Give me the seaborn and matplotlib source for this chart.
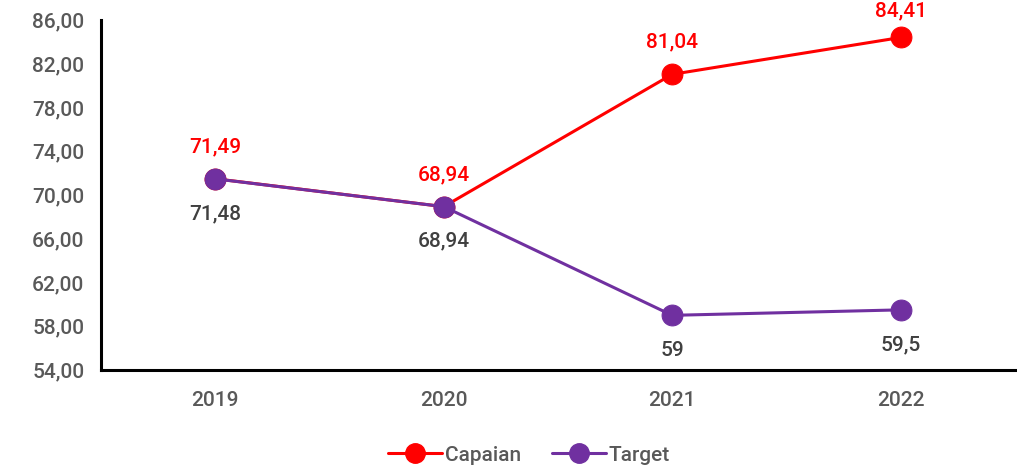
import numpy as np
import pandas as pd
import seaborn as sns
import matplotlib.pyplot as plt

# data
years = ['2019', '2020', '2021', '2022']
capaian = [71.49, 68.94, 81.04, 84.41]
target = [71.48, 68.94, 59.0, 59.5]
capaian_labels = ['71,49', '68,94', '81,04', '84,41']
target_labels = ['71,48', '68,94', '59', '59,5']
series = ['Capaian', 'Target']
colors = ['#FF0000', '#7030A0']

df = pd.DataFrame({
    'Tahun': years * 2,
    'Nilai': capaian + target,
    'Seri': ['Capaian'] * 4 + ['Target'] * 4,
})

sns.set_style('white')
plt.rcParams['font.family'] = ['Roboto', 'DejaVu Sans']

fig = plt.figure(figsize=(10.17, 4.67), dpi=100)
ax = fig.add_axes([0.0993, 0.2077, 0.8987, 0.7493])

sns.lineplot(
    data=df, x='Tahun', y='Nilai', hue='Seri', hue_order=series,
    palette=colors, marker='o', markersize=15, linewidth=2.2,
    ax=ax, legend=False,
)
for line, c in zip(ax.lines, colors):
    line.set_markeredgecolor(c)
    line.set_markerfacecolor(c)

# data labels
for i, (v, lab) in enumerate(zip(capaian, capaian_labels)):
    off = 23 if i < 3 else 19
    ax.annotate(lab, (i, v), xytext=(0, off), textcoords='offset points',
                ha='center', va='center', color='#FF0000', fontsize=15,
                fontweight='medium', annotation_clip=False)
for i, (v, lab) in enumerate(zip(target, target_labels)):
    ax.annotate(lab, (i, v), xytext=(0, -25), textcoords='offset points',
                ha='center', va='center', color='#404040', fontsize=15,
                fontweight='medium', annotation_clip=False)

ax.set_xlim(-0.5, 3.5)
ax.set_ylim(54, 86)
yt = np.arange(54, 87, 4)
ax.set_yticks(yt)
ax.set_yticklabels([f'{t:.2f}'.replace('.', ',') for t in yt])
ax.set_xlabel('')
ax.set_ylabel('')
ax.tick_params(axis='both', length=0, labelsize=15, labelcolor='#595959', pad=12)
ax.tick_params(axis='x', pad=15)
for t in ax.get_xticklabels() + ax.get_yticklabels():
    t.set_fontweight('medium')

for s in ['top', 'right']:
    ax.spines[s].set_visible(False)
for s in ['left', 'bottom']:
    ax.spines[s].set_color('black')
    ax.spines[s].set_linewidth(2.2)

handles = [plt.Line2D([], [], color=c, marker='o', markersize=14, linewidth=2.2)
           for c in colors]
leg = fig.legend(handles, series, loc='lower center', ncol=2, frameon=False,
                 bbox_to_anchor=(0.52, -0.035), fontsize=15, handlelength=2.6,
                 handletextpad=0.1, columnspacing=1.5, labelcolor='#595959')
for t in leg.get_texts():
    t.set_fontweight('medium')

fig.savefig('out.png', dpi=100)
